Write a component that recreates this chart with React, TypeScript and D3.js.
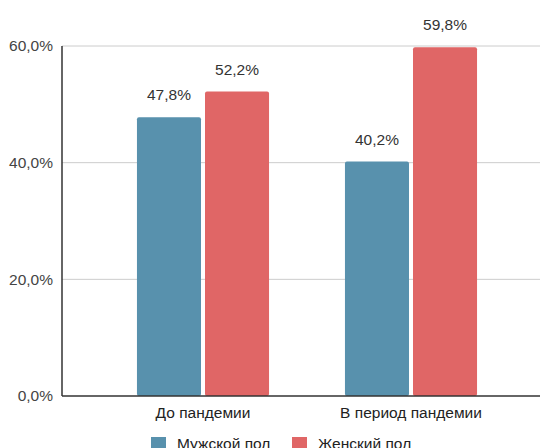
import React from 'react';
import * as d3 from 'd3';

const categories = ['До пандемии', 'В период пандемии'];
const seriesNames = ['Мужской пол', 'Женский пол'];
const male = [47.8, 40.2];
const female = [52.2, 59.8];
const yTicks = [0, 20, 40, 60];
const colors = ['#5891ad', '#e06666'];

const fmt = (v: number) => v.toFixed(1).replace('.', ',') + '%';

const App: React.FC = () => {
  const width = 540;
  const height = 448;
  const left = 62;
  const right = 540;
  const top = 46;
  const bottom = 396;
  const fs = 15.5;

  const y = d3.scaleLinear().domain([0, 60]).range([bottom, top]);
  const x = d3
    .scaleBand<string>()
    .domain(categories)
    .range([99, 515])
    .paddingInner(0.365)
    .paddingOuter(0.1825);
  const xs = d3
    .scaleBand<string>()
    .domain(seriesNames)
    .range([0, x.bandwidth()])
    .paddingInner(4 / 68);

  const values = [male, female];
  const font = 'Liberation Sans, Arial, sans-serif';

  return (
    <svg
      width={width}
      height={height}
      style={{ position: 'absolute', left: 0, top: 0 }}
      fontFamily={font}
    >
      <rect width={width} height={height} fill="#fff" />
      {yTicks.map((t) => (
        <g key={t}>
          {t > 0 && (
            <line x1={left} x2={right} y1={y(t)} y2={y(t)} stroke="#cccccc" strokeWidth={1} />
          )}
          <text x={53} y={y(t)} dy="0.35em" textAnchor="end" fontSize={fs} fill="#444">
            {fmt(t)}
          </text>
        </g>
      ))}
      {categories.map((c, i) => (
        <g key={c} transform={`translate(${x(c)},0)`}>
          {seriesNames.map((s, j) => {
            const v = values[j][i];
            const bx = xs(s)!;
            return (
              <g key={s}>
                <rect
                  x={bx}
                  y={y(v)}
                  width={xs.bandwidth()}
                  height={bottom - y(v)}
                  fill={colors[j]}
                  rx={2}
                />
                <text
                  x={bx + xs.bandwidth() / 2}
                  y={y(v) - 17}
                  textAnchor="middle"
                  fontSize={fs}
                  fill="#333"
                >
                  {fmt(v)}
                </text>
              </g>
            );
          })}
          <text
            x={x.bandwidth() / 2}
            y={bottom + 22}
            textAnchor="middle"
            fontSize={fs}
            fill="#222"
          >
            {c}
          </text>
        </g>
      ))}
      <line x1={left} x2={left} y1={top} y2={bottom} stroke="#333" strokeWidth={1.5} />
      <line x1={left} x2={right} y1={bottom} y2={bottom} stroke="#333" strokeWidth={1.5} />
      {seriesNames.map((s, j) => {
        const lx = j === 0 ? 151 : 292;
        return (
          <g key={s}>
            <rect x={lx} y={437} width={15} height={15} fill={colors[j]} />
            <text x={lx + 26} y={449} fontSize={fs} fill="#222">
              {s}
            </text>
          </g>
        );
      })}
    </svg>
  );
};

export default App;
